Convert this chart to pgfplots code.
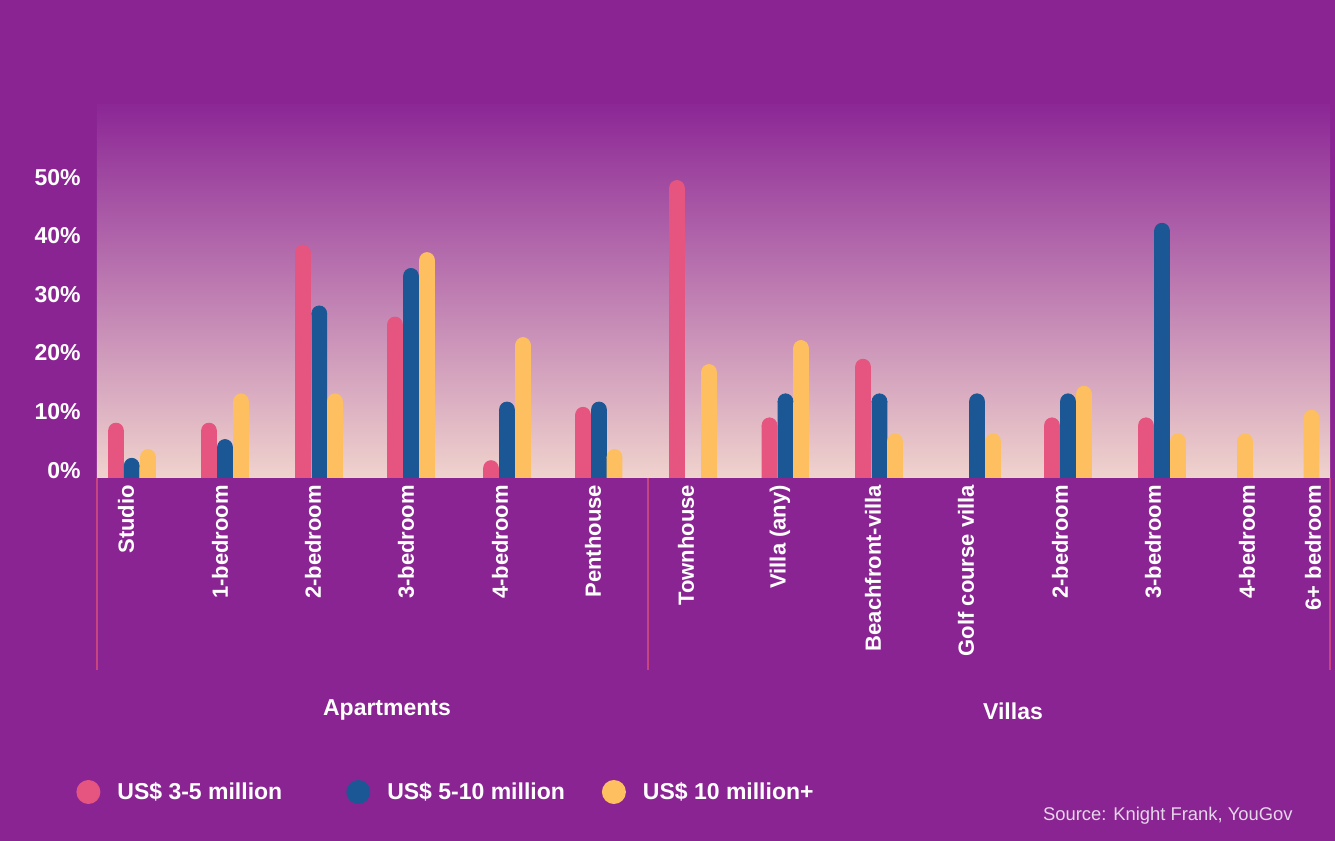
\documentclass[border=0pt]{standalone}
\usepackage{pgfplots}
\pgfplotsset{compat=1.18}
\usepackage{fontspec}
\setmainfont{Liberation Sans}
\definecolor{bgp}{HTML}{8A2493}
\definecolor{gtop}{HTML}{8C2796}
\definecolor{gbot}{HTML}{F0D3CD}
\definecolor{pinkc}{HTML}{E5557F}
\definecolor{bluec}{HTML}{1B5795}
\definecolor{yelc}{HTML}{FDBF60}
\definecolor{sepc}{HTML}{C8447E}
\definecolor{srcc}{HTML}{E6D6EA}
\newcommand{\lbl}{\bfseries\fontsize{11.5pt}{13pt}\selectfont}
\newcommand{\cat}{\bfseries\fontsize{11pt}{13pt}\selectfont}
\begin{document}
\begin{tikzpicture}
\fill[bgp] (0,0) rectangle (667.5pt,420.5pt);
\begin{axis}[
  at={(48.5pt,181.5pt)}, anchor=south west,
  scale only axis, width=616.5pt, height=186.5pt,
  xmin=97, xmax=1330, ymin=0, ymax=63.65,
  axis line style={draw=none},
  axis background/.style={shade, top color=gtop, bottom color=gbot, draw=none},
  major tick length=0pt,
  clip=false,
  ytick={0,10,20,30,40,50},
  yticklabels={0\%,10\%,20\%,30\%,40\%,50\%},
  yticklabel style={font=\lbl, text=white, xshift=-4.7pt, yshift=3.9pt},
  xtick={126,220,313,406,500,593,686,780,873,966,1060,1153,1247,1313},
  xticklabels={Studio,1-bedroom,2-bedroom,3-bedroom,4-bedroom,Penthouse,Townhouse,Villa (any),Beachfront-villa,Golf course villa,2-bedroom,3-bedroom,4-bedroom,6+ bedroom},
  xticklabel style={rotate=90, anchor=east, font=\cat, text=white},
  ybar, bar width=15.6, bar shift=0pt,
  legend style={at={(axis cs:76,-53.58)}, anchor=west, draw=none, fill=none,
    inner sep=0pt, font=\lbl, text=white, legend columns=3,
    nodes={inner sep=0pt},
    /tikz/every odd column/.style={column sep=8.5pt},
    /tikz/every even column/.style={column sep=18.5pt}},
  legend cell align=left,
  legend image code/.code={\fill[#1, draw=none] (6pt,0pt) circle (6pt);},
]
\addplot[ybar, fill=pinkc, draw=none, mark=*, mark size=3.7pt, mark options={fill=pinkc, draw=pinkc, line width=0.4pt}]
  coordinates {(116,8.1) (209,8.1) (303,38.5) (395,26.2) (491,1.7) (583,10.8) (677,49.5) (769.5,9.0) (863,19.0) (1052,9.0) (1146,9.0)};
\addlegendentry{US\$ 3-5 million\rule{13.5pt}{0pt}}
\addplot[ybar, fill=bluec, draw=none, mark=*, mark size=3.7pt, mark options={fill=bluec, draw=bluec, line width=0.4pt}]
  coordinates {(131.7,2.1) (225,5.3) (319.3,28.1) (411,34.5) (507,11.7) (599,11.7) (785.5,13.1) (879.5,13.1) (977,13.1) (1068,13.1) (1162,42.2)};
\addlegendentry{US\$ 5-10 million}
\addplot[ybar, fill=yelc, draw=none, mark=*, mark size=3.7pt, mark options={fill=yelc, draw=yelc, line width=0.4pt}]
  coordinates {(148,3.6) (241,13.1) (335,13.1) (427,37.2) (523,22.7) (614.5,3.6) (709,18.1) (801,22.2) (895,6.3) (993,6.3) (1084,14.4) (1178,6.3) (1245,6.3) (1311.5,10.3)};
\addlegendentry{US\$ 10 million+}
\draw[sepc, line width=1pt] (axis cs:97,0) -- (axis cs:97,-32.76);
\draw[sepc, line width=1pt] (axis cs:648,0) -- (axis cs:648,-32.76);
\draw[sepc, line width=1pt] (axis cs:1330,0) -- (axis cs:1330,-32.76);
\node[font=\lbl, text=white] at (axis cs:387,-39.59) {Apartments};
\node[font=\lbl, text=white] at (axis cs:1013,-39.76) {Villas};
\node[anchor=east, font=\fontsize{9.2pt}{11pt}\selectfont, text=srcc, inner sep=0pt] at (axis cs:1293,-57.68) {Source: Knight Frank, YouGov};
\end{axis}
\pgfresetboundingbox
\useasboundingbox (0,0) rectangle (667.5pt,420.5pt);
\end{tikzpicture}
\end{document}
